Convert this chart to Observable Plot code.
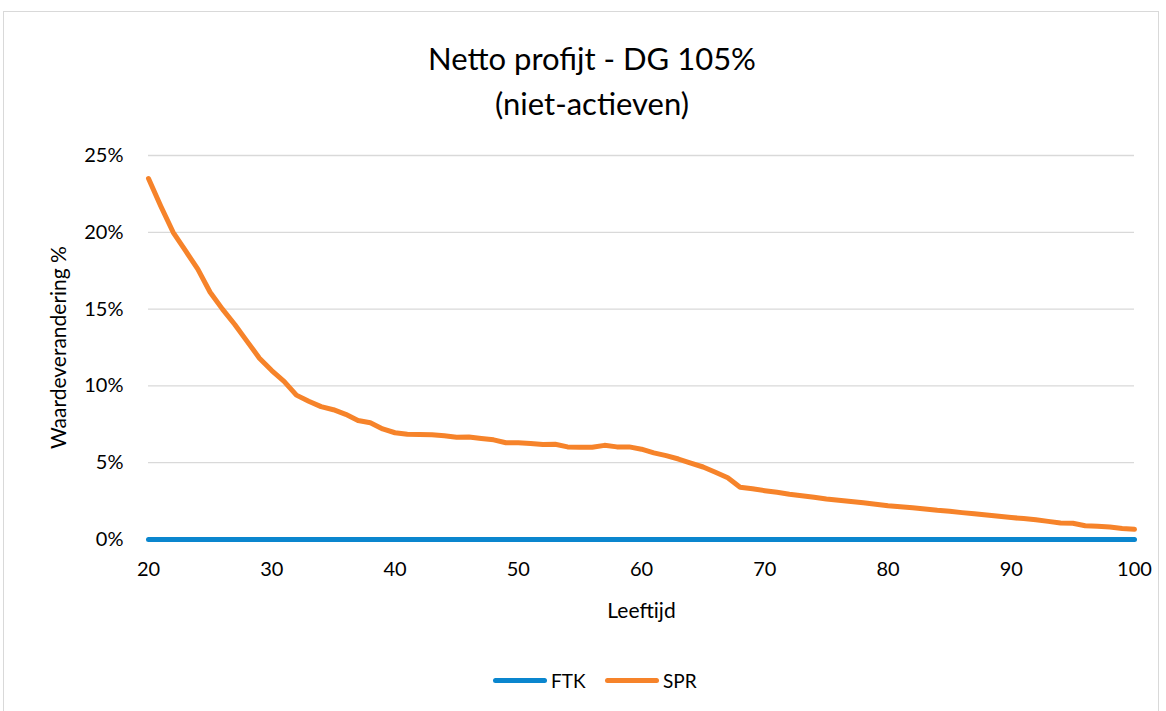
<!DOCTYPE html>
<html><head><meta charset="utf-8">
<script src="https://cdn.jsdelivr.net/npm/d3@7"></script>
<script src="https://cdn.jsdelivr.net/npm/@observablehq/plot@0.6"></script>
<style>
body{margin:0;background:#fff;font-family:Lato,"Open Sans",sans-serif;width:1166px;height:711px;overflow:hidden;position:relative;}
#frame{position:absolute;left:3px;top:11px;width:1156px;height:720px;border:1px solid #d9d9d9;box-sizing:border-box;}
#title{position:absolute;left:0;width:1184px;top:36px;text-align:center;font-size:31px;line-height:45px;color:#000;}
#chart{position:absolute;left:0;top:130px;}
#legend{position:absolute;top:668px;left:0;width:1166px;height:24px;font-size:19px;color:#000;}
.item{position:absolute;top:0;display:flex;align-items:center;height:24px;}
.sw{display:inline-block;width:54px;height:5px;border-radius:3px;margin-right:4px;}
</style></head><body>
<div id="frame"></div>
<div id="title">Netto profijt - DG 105%<br>(niet-actieven)</div>
<div id="chart"></div>
<div id="legend"></div>
<script>
const ages = d3.range(20, 101);
const sprValues = [
 23.5, 21.7, 20.0, 18.8, 17.6, 16.1, 15.0, 14.0, 12.9, 11.8,
 11.0, 10.3, 9.4, 9.0, 8.65, 8.45, 8.15, 7.75, 7.6, 7.2,
 6.95, 6.85, 6.84, 6.82, 6.75, 6.66, 6.68, 6.58, 6.49, 6.30,
 6.30, 6.25, 6.18, 6.2, 6.03, 6.0, 6.0, 6.13, 6.03, 6.03,
 5.88, 5.64, 5.46, 5.24, 4.98, 4.72, 4.38, 4.02, 3.40, 3.30,
 3.18, 3.07, 2.95, 2.85, 2.75, 2.64, 2.56, 2.47, 2.39, 2.30,
 2.20, 2.13, 2.06, 1.98, 1.90, 1.84, 1.75, 1.67, 1.59, 1.51,
 1.43, 1.36, 1.28, 1.18, 1.07, 1.06, 0.90, 0.86, 0.81, 0.72,
 0.66
];
const ftkValues = ages.map(() => 0);
const seriesNames = ["FTK", "SPR"];
const seriesColors = ["#0A86CE", "#F6832A"];
const yTicks = [0, 0.05, 0.10, 0.15, 0.20, 0.25];
const xTicks = [20, 30, 40, 50, 60, 70, 80, 90, 100];

const rows = [];
ages.forEach((a, i) => {
  rows.push({age: a, value: ftkValues[i] / 100, series: "FTK"});
  rows.push({age: a, value: sprValues[i] / 100, series: "SPR"});
});

const chart = Plot.plot({
  width: 1166,
  height: 499,
  marginLeft: 148,
  marginRight: 32,
  marginTop: 25,
  marginBottom: 90,
  style: {fontFamily: "Lato, 'Open Sans', sans-serif", fontSize: "20px", color: "#000", background: "transparent"},
  x: {domain: [20, 100]},
  y: {domain: [0, 0.25]},
  color: {domain: seriesNames, range: seriesColors},
  marks: [
    Plot.gridY(yTicks, {stroke: "#d9d9d9", strokeOpacity: 1, strokeWidth: 1.3}),
    Plot.axisY({ticks: yTicks, tickFormat: d3.format(".0%"), tickSize: 0, tickPadding: 25,
      label: "Waardeverandering %", labelAnchor: "center", labelArrow: "none", labelOffset: 97, fill: "#000"}),
    Plot.axisX({ticks: xTicks, tickFormat: d => d, tickSize: 0, tickPadding: 22,
      label: "Leeftijd", labelAnchor: "center", labelArrow: "none", labelOffset: 78, fill: "#000"}),
    Plot.ruleY([0], {stroke: "#d9d9d9", strokeWidth: 1.3}),
    Plot.line(rows, {x: "age", y: "value", z: "series", stroke: "series", strokeWidth: 5, strokeLinejoin: "round", strokeLinecap: "round"})
  ]
});
document.getElementById("chart").appendChild(chart);
chart.querySelectorAll("[aria-label='y-axis label'] text, [aria-label='x-axis label'] text").forEach(t => {
  t.style.fontSize = "21px"; t.setAttribute("fill", "#000");
});

const legend = document.getElementById("legend");
const legendLeft = [493, 605];
seriesNames.forEach((n, i) => {
  const it = document.createElement("div");
  it.className = "item";
  it.style.left = legendLeft[i] + "px";
  it.innerHTML = `<span class="sw" style="background:${seriesColors[i]}"></span><span>${n}</span>`;
  legend.appendChild(it);
});
</script>
</body></html>
